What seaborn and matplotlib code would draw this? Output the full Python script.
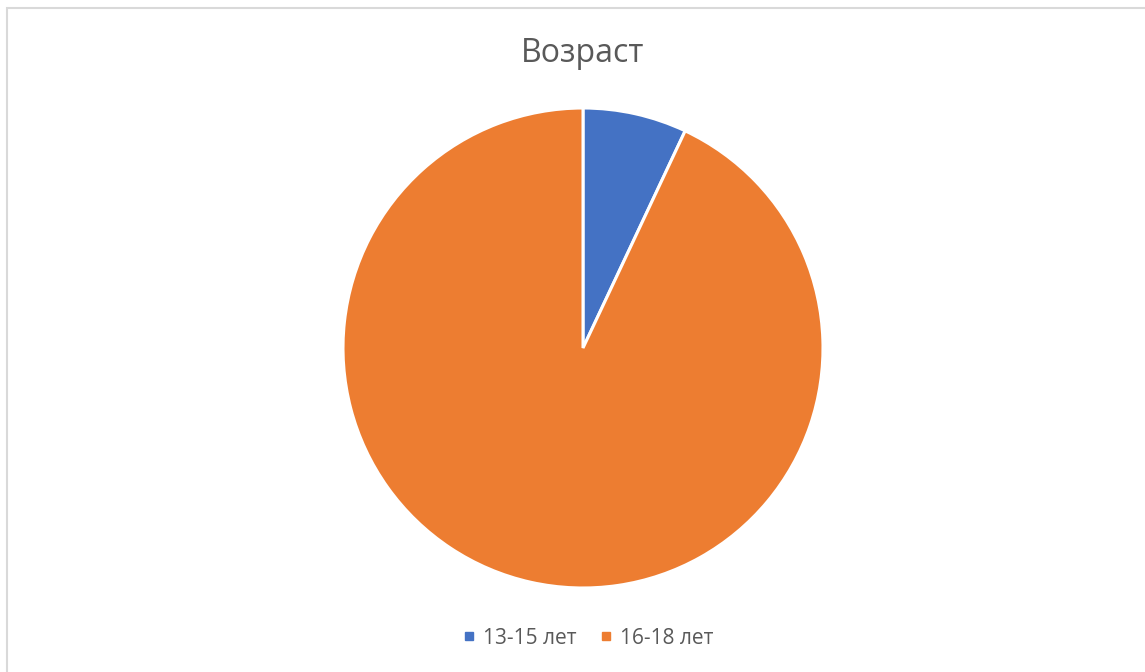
import matplotlib
matplotlib.use('Agg')
import matplotlib.pyplot as plt
import seaborn as sns
from matplotlib.lines import Line2D
from matplotlib.patches import Rectangle

labels = ['13-15 лет', '16-18 лет']
values = [7, 93]
colors = ['#4472C4', '#ED7D31']
title = 'Возраст'


def main():
    sns.set_theme(style='white')
    plt.rcParams['font.family'] = ['Open Sans', 'DejaVu Sans']

    fig = plt.figure(figsize=(11.45, 6.72), dpi=100)
    W, H = 1145, 672
    cx, cy, r = 583, 348, 240
    ax = fig.add_axes([(cx - r) / W, (H - cy - r) / H, 2 * r / W, 2 * r / H])
    ax.pie(values, colors=colors, startangle=90, counterclock=False, radius=1,
           wedgeprops={'edgecolor': 'white', 'linewidth': 2.2})
    ax.set_xlim(-1, 1)
    ax.set_ylim(-1, 1)
    ax.set_aspect('equal')
    ax.axis('off')

    # outer frame of the chart area
    fig.patches.append(Rectangle((7 / W, -0.1), 1.2, 1 - 8 / H + 0.1, transform=fig.transFigure,
                                 fill=False, edgecolor='#d9d9d9', linewidth=1.5))

    fig.text(cx / W, 1 - 54 / H, title, ha='center', va='center', fontsize=23, color='#595959')

    handles = [Line2D([], [], marker='s', linestyle='', markersize=6, color=c) for c in colors]
    fig.legend(handles, labels, loc='center', bbox_to_anchor=(cx / W + 0.005, 1 - 638 / H), ncol=2,
               frameon=False, fontsize=15, handlelength=0.5, handletextpad=0.4,
               columnspacing=1.2, labelcolor='#595959')

    fig.savefig('out.png', dpi=100)


if __name__ == '__main__':
    main()
